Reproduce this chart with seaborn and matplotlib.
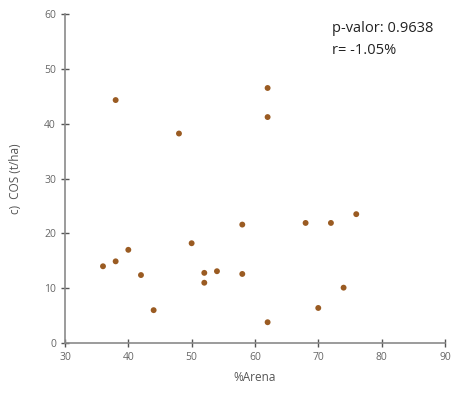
import numpy as np
import pandas as pd
import matplotlib
matplotlib.use("Agg")
import matplotlib.pyplot as plt
import seaborn as sns

arena = [36, 38, 38, 40, 42, 44, 48, 50, 52, 52, 54, 58, 58, 62, 62, 62, 68, 70, 72, 74, 76]
cos = [14.0, 14.9, 44.3, 17.0, 12.4, 6.0, 38.2, 18.2, 12.8, 11.0, 13.1, 21.6, 12.6,
       46.5, 41.2, 3.8, 21.9, 6.4, 21.9, 10.1, 23.5]
x_ticks = [30, 40, 50, 60, 70, 80, 90]
y_ticks = [0, 10, 20, 30, 40, 50, 60]

df = pd.DataFrame({"arena": arena, "cos": cos})

sns.set_style("white", {"xtick.bottom": True, "ytick.left": True})
plt.rcParams["font.family"] = ["Open Sans", "DejaVu Sans"]

fig = plt.figure(figsize=(4.69, 3.98), dpi=100)
ax = fig.add_axes([0.1386, 0.138, 0.81, 0.827])
sns.scatterplot(data=df, x="arena", y="cos", color="#9a5b22", s=18,
                edgecolor="none", ax=ax)

ax.set_xlim(30, 90)
ax.set_ylim(0, 60)
ax.set_xticks(x_ticks)
ax.set_yticks(y_ticks)
for side in ["top", "right"]:
    ax.spines[side].set_visible(False)
for side in ["left", "bottom"]:
    ax.spines[side].set_color("#8a8a8a")
    ax.spines[side].set_linewidth(1.2)
ax.tick_params(axis="both", direction="inout", length=6, width=1, color="#555555",
               labelsize=7.5, labelcolor="#666666")
ax.set_xlabel("%Arena", fontsize=8.5, color="#555555", labelpad=6)
ax.set_ylabel("c)  COS (t/ha)", fontsize=8.5, color="#555555", labelpad=16)

fig.text(0.708, 0.948, "p-valor: 0.9638\nr= -1.05%",
         ha="left", va="top", fontsize=10.5, color="#222222", linespacing=1.7)

fig.savefig("out.png", dpi=100)
plt.close(fig)
